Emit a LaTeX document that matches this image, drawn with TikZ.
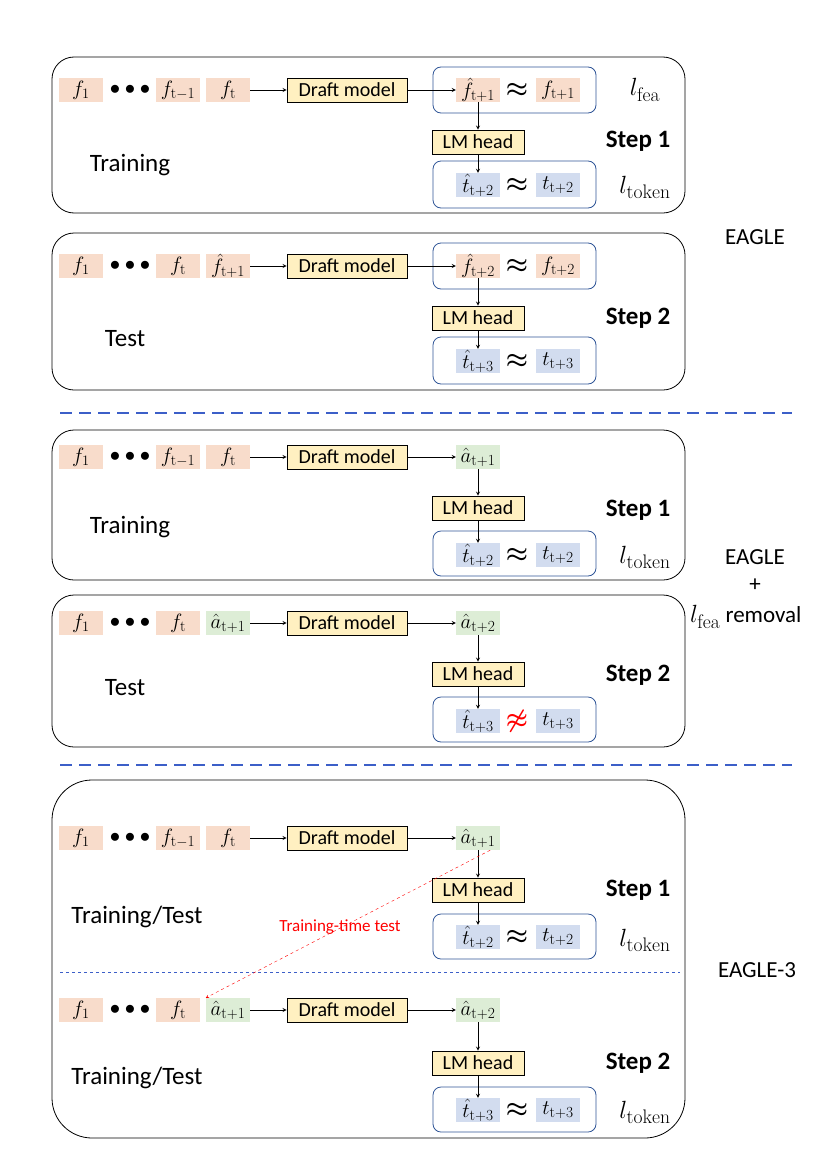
\documentclass[tikz,border=0pt]{standalone}
\usepackage{amsmath}
\usepackage{amssymb}
\usepackage{fontspec}
\setsansfont{Carlito}
\usetikzlibrary{positioning}
\definecolor{feacol}{HTML}{F8DCCB}
\definecolor{acol}{HTML}{DDEDD6}
\definecolor{tokcol}{HTML}{D2DCEF}
\definecolor{boxcol}{HTML}{FFF0C1}
\definecolor{framecol}{HTML}{2F5597}
\definecolor{sepcol}{HTML}{3C5FC8}
\newcommand{\txt}{\fontsize{20}{24}\selectfont\sffamily}
\newcommand{\dotsrow}{\fontsize{20}{22}\selectfont$\bullet\bullet\bullet$}
\newcommand{\approxsym}{\fontsize{26}{28}\selectfont$\boldsymbol{\approx}$}
\tikzstyle{cell}=[inner sep=0, minimum width=44pt, minimum height=24pt, font=\fontsize{22}{24}\selectfont]
\tikzstyle{fcell}=[cell, fill=feacol]
\tikzstyle{acell}=[cell, fill=acol]
\tikzstyle{tcell}=[cell, fill=tokcol]
\tikzstyle{block}=[draw, thick, fill=boxcol, inner sep=0, minimum height=24pt, font=\txt]
\tikzstyle{pair}=[draw=framecol, thick, rounded corners=8pt]
\tikzstyle{panel}=[draw, thick, rounded corners=22pt]
\tikzstyle{flow}=[-stealth, thick]
\tikzstyle{loss}=[font=\fontsize{28}{30}\selectfont]
\tikzstyle{steplabel}=[font=\fontsize{25}{28}\selectfont\sffamily\bfseries]
\tikzstyle{modelabel}=[font=\fontsize{25}{28}\selectfont\sffamily]
\tikzstyle{eaglelabel}=[font=\fontsize{23}{26}\selectfont\sffamily]
\begin{document}
\begin{tikzpicture}[x=1pt, y=-1pt]
    \useasboundingbox (0,0) rectangle (822,1156);
    % frames
    \draw[panel] (52,57) rectangle (685,213);
    \draw[panel] (52,233) rectangle (685,390);
    \draw[panel] (52,430) rectangle (685,580);
    \draw[panel] (52,595) rectangle (685,747);
    \draw[panel, rounded corners=40pt] (52,780) rectangle (685,1138);
    \draw[sepcol, line width=2.5pt, dash pattern=on 12pt off 7pt] (60,413) -- (792,413);
    \draw[sepcol, line width=2.5pt, dash pattern=on 12pt off 7pt] (60,765) -- (792,765);
    \draw[sepcol, dashed] (60,972) -- (680,972);

    % EAGLE, training
    \node[fcell] (p1f1) at (81,90) {$f_1$};
    \node (p1dots) at (130,90) {\dotsrow};
    \node[fcell] (p1fm) at (178,90) {$f_{\mathrm{t-1}}$};
    \node[fcell] (p1ft) at (228,90) {$f_{\mathrm{t}}$};
    \node[block, minimum width=120pt] (p1draft) at (347,90) {Draft model};
    \node[fcell] (p1fh) at (478,90) {$\hat f_{\mathrm{t+1}}$};
    \node (p1ap) at (517,90) {\approxsym};
    \node[fcell] (p1fn) at (558,90) {$f_{\mathrm{t+1}}$};
    \draw[pair] (433,67) rectangle (596,113);
    \node[block, minimum width=92pt] (p1head) at (478,142) {LM head};
    \node[tcell] (p1th) at (478,185) {$\hat t_{\mathrm{t+2}}$};
    \node (p1tp) at (517,185) {\approxsym};
    \node[tcell] (p1tn) at (558,185) {$t_{\mathrm{t+2}}$};
    \draw[pair] (433,161) rectangle (596,208);
    \node[loss] at (645,90) {$l_{\mathrm{fea}}$};
    \node[loss] at (645,187) {$l_{\mathrm{token}}$};
    \node[steplabel] at (638,141) {Step 1};
    \node[modelabel] at (130,165) {Training};
    \draw[flow] (p1ft) -- (p1draft);
    \draw[flow] (p1draft) -- (p1fh);
    \draw[flow] (p1fh.south) -- (p1head);
    \draw[flow] (p1head) -- (p1th);

    % EAGLE, test
    \node[fcell] (p2f1) at (81,266) {$f_1$};
    \node (p2dots) at (130,266) {\dotsrow};
    \node[fcell] (p2ft) at (178,266) {$f_{\mathrm{t}}$};
    \node[fcell] (p2fh) at (228,266) {$\hat f_{\mathrm{t+1}}$};
    \node[block, minimum width=120pt] (p2draft) at (347,266) {Draft model};
    \node[fcell] (p2fo) at (478,266) {$\hat f_{\mathrm{t+2}}$};
    \node (p2ap) at (517,266) {\approxsym};
    \node[fcell] (p2fn) at (558,266) {$f_{\mathrm{t+2}}$};
    \draw[pair] (433,243) rectangle (596,289);
    \node[block, minimum width=92pt] (p2head) at (478,318) {LM head};
    \node[tcell] (p2th) at (478,361) {$\hat t_{\mathrm{t+3}}$};
    \node (p2tp) at (517,361) {\approxsym};
    \node[tcell] (p2tn) at (558,361) {$t_{\mathrm{t+3}}$};
    \draw[pair] (433,337) rectangle (596,384);
    \node[steplabel] at (638,318) {Step 2};
    \node[modelabel] at (125,339) {Test};
    \node[eaglelabel] at (755,237) {EAGLE};
    \draw[flow] (p2fh) -- (p2draft);
    \draw[flow] (p2draft) -- (p2fo);
    \draw[flow] (p2fo.south) -- (p2head);
    \draw[flow] (p2head) -- (p2th);

    % l_fea removal, training
    \node[fcell] (p3f1) at (81,457) {$f_1$};
    \node (p3dots) at (130,457) {\dotsrow};
    \node[fcell] (p3fm) at (178,457) {$f_{\mathrm{t-1}}$};
    \node[fcell] (p3ft) at (228,457) {$f_{\mathrm{t}}$};
    \node[block, minimum width=120pt] (p3draft) at (347,457) {Draft model};
    \node[acell] (p3ah) at (478,457) {$\hat a_{\mathrm{t+1}}$};
    \node[block, minimum width=92pt] (p3head) at (478,508) {LM head};
    \node[tcell] (p3th) at (478,555) {$\hat t_{\mathrm{t+2}}$};
    \node (p3tp) at (517,555) {\approxsym};
    \node[tcell] (p3tn) at (558,555) {$t_{\mathrm{t+2}}$};
    \draw[pair] (433,531) rectangle (596,576);
    \node[loss] at (645,557) {$l_{\mathrm{token}}$};
    \node[steplabel] at (638,510) {Step 1};
    \node[modelabel] at (130,527) {Training};
    \draw[flow] (p3ft) -- (p3draft);
    \draw[flow] (p3draft) -- (p3ah);
    \draw[flow] (p3ah) -- (p3head);
    \draw[flow] (p3head) -- (p3th);

    % l_fea removal, test
    \node[fcell] (p4f1) at (81,623) {$f_1$};
    \node (p4dots) at (130,623) {\dotsrow};
    \node[fcell] (p4ft) at (178,623) {$f_{\mathrm{t}}$};
    \node[acell] (p4ah) at (228,623) {$\hat a_{\mathrm{t+1}}$};
    \node[block, minimum width=120pt] (p4draft) at (347,623) {Draft model};
    \node[acell] (p4ao) at (478,623) {$\hat a_{\mathrm{t+2}}$};
    \node[block, minimum width=92pt] (p4head) at (478,674) {LM head};
    \node[tcell] (p4th) at (478,721) {$\hat t_{\mathrm{t+3}}$};
    \node[red] (p4tp) at (517,721) {\fontsize{26}{28}\selectfont$\boldsymbol{\not\approx}$};
    \node[tcell] (p4tn) at (558,721) {$t_{\mathrm{t+3}}$};
    \draw[pair] (433,697) rectangle (596,742);
    \node[steplabel] at (638,675) {Step 2};
    \node[modelabel] at (125,688) {Test};
    \node[eaglelabel] at (755,557) {EAGLE};
    \node[eaglelabel] at (755,585) {+};
    \node[eaglelabel, anchor=west, inner sep=0] at (690,617) {\fontsize{28}{30}\selectfont$l_{\mathrm{fea}}$\fontsize{23}{26}\selectfont\ removal};
    \draw[flow] (p4ah) -- (p4draft);
    \draw[flow] (p4draft) -- (p4ao);
    \draw[flow] (p4ao) -- (p4head);
    \draw[flow] (p4head) -- (p4th);

    % EAGLE-3
    \node[fcell] (p5f1) at (81,838) {$f_1$};
    \node (p5dots) at (130,838) {\dotsrow};
    \node[fcell] (p5fm) at (178,838) {$f_{\mathrm{t-1}}$};
    \node[fcell] (p5ft) at (228,838) {$f_{\mathrm{t}}$};
    \node[block, minimum width=120pt] (p5draft) at (347,838) {Draft model};
    \node[acell] (p5ah) at (478,838) {$\hat a_{\mathrm{t+1}}$};
    \node[block, minimum width=92pt] (p5head) at (478,890) {LM head};
    \node[tcell] (p5th) at (478,937) {$\hat t_{\mathrm{t+2}}$};
    \node (p5tp) at (517,937) {\approxsym};
    \node[tcell] (p5tn) at (558,937) {$t_{\mathrm{t+2}}$};
    \draw[pair] (433,914) rectangle (596,959);
    \node[loss] at (645,940) {$l_{\mathrm{token}}$};
    \node[steplabel] at (638,890) {Step 1};
    \node[modelabel] at (137,917) {Training/Test};
    \draw[flow] (p5ft) -- (p5draft);
    \draw[flow] (p5draft) -- (p5ah);
    \draw[flow] (p5ah) -- (p5head);
    \draw[flow] (p5head) -- (p5th);

    \node[fcell] (p6f1) at (81,1010) {$f_1$};
    \node (p6dots) at (130,1010) {\dotsrow};
    \node[fcell] (p6ft) at (178,1010) {$f_{\mathrm{t}}$};
    \node[acell] (p6ah) at (228,1010) {$\hat a_{\mathrm{t+1}}$};
    \node[block, minimum width=120pt] (p6draft) at (347,1010) {Draft model};
    \node[acell] (p6ao) at (478,1010) {$\hat a_{\mathrm{t+2}}$};
    \node[block, minimum width=92pt] (p6head) at (478,1063) {LM head};
    \node[tcell] (p6th) at (478,1110) {$\hat t_{\mathrm{t+3}}$};
    \node (p6tp) at (517,1110) {\approxsym};
    \node[tcell] (p6tn) at (558,1110) {$t_{\mathrm{t+3}}$};
    \draw[pair] (433,1087) rectangle (596,1132);
    \node[loss] at (645,1112) {$l_{\mathrm{token}}$};
    \node[steplabel] at (638,1063) {Step 2};
    \node[modelabel] at (137,1078) {Training/Test};
    \node[eaglelabel] at (757,970) {EAGLE-3};
    \draw[flow] (p6ah) -- (p6draft);
    \draw[flow] (p6draft) -- (p6ao);
    \draw[flow] (p6ao) -- (p6head);
    \draw[flow] (p6head) -- (p6th);

    % training-time test
    \draw[red, dashed, -stealth] (p5ah.south east) ++(-10,0) coordinate (ttt) -- (p6ah.north west);
    \node[red, font=\fontsize{17}{20}\selectfont\sffamily, inner sep=1pt] at (340,927) {Training-time test};
\end{tikzpicture}
\end{document}
